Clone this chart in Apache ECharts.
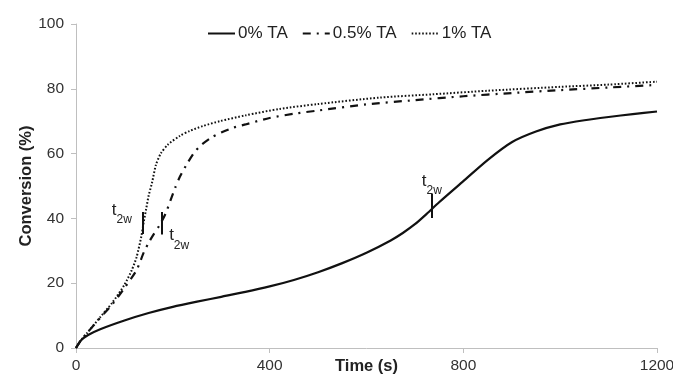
<!DOCTYPE html>
<html>
<head>
<meta charset="utf-8">
<script src="https://cdn.jsdelivr.net/npm/echarts@6/dist/echarts.min.js"></script>
<style>
html,body{margin:0;padding:0;background:#fff;}
#c{width:673px;height:376px;}
</style>
</head>
<body>
<div id="c"></div>
<script>
// Data
const seriesNames = ['0% TA', '0.5% TA', '1% TA'];
const ta0 = [[0,0],[10,2.3],[25,4],[50,5.8],[100,8.5],[150,10.8],[200,12.7],[250,14.3],[300,15.8],[350,17.3],[400,19],[450,21],[500,23.4],[550,26.2],[600,29.4],[650,33.2],[675,35.5],[700,38.2],[725,41.5],[750,45],[800,51.5],[850,58],[900,63.5],[950,66.8],[1000,69],[1050,70.3],[1100,71.3],[1150,72.2],[1200,73]];
const ta05 = [[0,0],[10,2.3],[25,5],[50,9.3],[75,13.5],[100,18.5],[125,24],[140,29.5],[150,32.5],[160,35],[173,38],[185,41.5],[195,45.5],[205,49.5],[215,53],[230,57],[245,60.5],[260,62.8],[280,65],[300,66.5],[325,68],[350,69],[400,71],[450,72.3],[500,73.3],[600,75.2],[700,76.5],[800,77.7],[900,78.7],[1000,79.6],[1100,80.4],[1200,81.2]];
const ta1 = [[0,0],[10,2.3],[25,5],[50,9.5],[75,14],[100,19.5],[115,24],[125,28],[135,34.5],[140,39],[145,43],[150,47],[157,51],[165,56.5],[175,60],[190,62.8],[215,65.5],[235,67],[262,68.5],[297,70],[350,71.8],[421,73.8],[500,75.3],[628,77.3],[737,78.3],[850,79.4],[1000,80.6],[1100,81.3],[1200,82.2]];
// t2w markers: [time, low, high]
const t2w0 = [735, 40.1, 47.5];
const t2w05 = [178, 35, 42];
const t2w1 = [138, 35.2, 42];
const xTicks = [0, 400, 800, 1200];
const yTicks = [0, 20, 40, 60, 80, 100];

const FONT = 'Liberation Sans, Arial, sans-serif';
const chart = echarts.init(document.getElementById('c'));

function marker(m, offset) {
  return {
    markLine: {
      silent: true, symbol: ['none', 'none'],
      lineStyle: { color: '#111', width: 2, type: 'solid' },
      label: { show: false },
      data: [[{ coord: [m[0], m[1]] }, { coord: [m[0], m[2]] }]]
    },
    markPoint: {
      silent: true, symbol: 'circle', symbolSize: 1,
      itemStyle: { color: 'rgba(0,0,0,0)' },
      data: [{ coord: [m[0], (m[1] + m[2]) / 2] }],
      label: {
        show: true, position: 'inside', offset: offset,
        formatter: '{a|t}{b|2w}',
        rich: {
          a: { fontSize: 17, fontFamily: FONT, color: '#222', lineHeight: 24, verticalAlign: 'top' },
          b: { fontSize: 12, fontFamily: FONT, color: '#222', lineHeight: 24, verticalAlign: 'bottom' }
        }
      }
    }
  };
}

const option = {
  animation: false,
  backgroundColor: '#fff',
  grid: { left: 76, right: 16, top: 24, bottom: 28, containLabel: false, outerBoundsMode: 'none' },
  legend: {
    top: 20, left: 202,
    itemWidth: 27, itemHeight: 10, itemGap: 14,
    itemStyle: { opacity: 0 },
    textStyle: { fontSize: 17, fontFamily: FONT, color: '#222', padding: [0, 0, 0, -2] },
    data: seriesNames
  },
  xAxis: {
    type: 'value', min: xTicks[0], max: xTicks[xTicks.length - 1], interval: 400,
    name: 'Time (s)', nameLocation: 'middle', nameGap: 10, nameMoveOverlap: false,
    nameTextStyle: { fontSize: 16.5, fontWeight: 'bold', fontFamily: FONT, color: '#222', verticalAlign: 'top' },
    axisLine: { show: true, lineStyle: { color: '#bfbfbf', width: 1 } },
    axisTick: { show: true, length: 5, lineStyle: { color: '#bfbfbf' } },
    axisLabel: { fontSize: 15.5, fontFamily: FONT, color: '#333', margin: 10, formatter: v => String(v) },
    splitLine: { show: false }
  },
  yAxis: {
    type: 'value', min: yTicks[0], max: yTicks[yTicks.length - 1], interval: 20,
    name: 'Conversion (%)', nameLocation: 'middle', nameGap: 41, nameRotate: 90, nameMoveOverlap: false,
    nameTextStyle: { fontSize: 16.5, fontWeight: 'bold', fontFamily: FONT, color: '#222' },
    axisLine: { show: true, lineStyle: { color: '#bfbfbf', width: 1 } },
    axisTick: { show: true, length: 5, lineStyle: { color: '#bfbfbf' } },
    axisLabel: { fontSize: 15.5, fontFamily: FONT, color: '#333', margin: 12, formatter: v => String(v) },
    splitLine: { show: false }
  },
  series: [
    Object.assign({
      name: seriesNames[0], type: 'line', data: ta0, showSymbol: false, symbol: 'none',
      smooth: 0.25,
      lineStyle: { color: '#111', width: 2.2, type: 'solid' },
      itemStyle: { color: '#111' }
    }, marker(t2w0, [0, -21])),
    Object.assign({
      name: seriesNames[1], type: 'line', data: ta05, showSymbol: false, symbol: 'none',
      smooth: 0.25,
      lineStyle: { color: '#111', width: 2.2, type: [8, 6, 2, 6] },
      itemStyle: { color: '#111' }
    }, marker(t2w05, [17, 16])),
    Object.assign({
      name: seriesNames[2], type: 'line', data: ta1, showSymbol: false, symbol: 'none',
      smooth: 0.25,
      lineStyle: { color: '#111', width: 2, type: [1.6, 1.9] },
      itemStyle: { color: '#111' }
    }, marker(t2w1, [-21, -9]))
  ]
};
chart.setOption(option);
</script>
</body>
</html>
